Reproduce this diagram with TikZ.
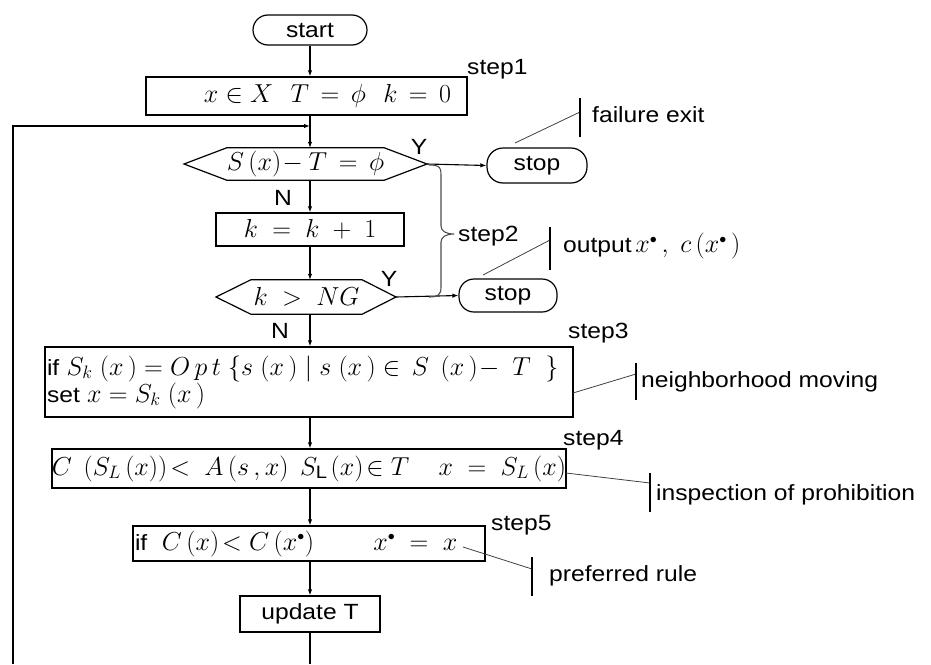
\RequirePackage{fix-cm}
\documentclass[tikz,border=0pt]{standalone}
\usepackage{fontspec}
\setmainfont[FakeStretch=1.12]{Liberation Sans}
\usetikzlibrary{arrows.meta,calc}
\DeclareMathSizes{22}{26}{18}{14}
\newcommand\lblfont{\fontsize{22}{27}\selectfont}
\newcommand\st{^{\scriptscriptstyle\bullet}}
\begin{document}
\begin{tikzpicture}[x=1pt,y=-1pt,
  box/.style={draw, line width=1.4pt, inner sep=0pt, font=\lblfont},
  term/.style={draw, line width=1.2pt, rounded corners=15pt, inner sep=0pt, font=\lblfont},
  hexline/.style={line width=1.2pt},
  conn/.style={line width=1.1pt, -{Latex[length=6pt,width=4.5pt]}},
  plain/.style={line width=1.1pt},
  callout/.style={line width=0.8pt, black!75},
  bar/.style={line width=1.6pt},
  lbl/.style={font=\lblfont, inner sep=0pt},
  bracecol/.style={line width=1.1pt, black!70}]
\useasboundingbox (0,0) rectangle (931,664);

% main column
\node[term, minimum width=114pt, minimum height=30pt] (start) at (310,30) {start};
\node[box, minimum width=321pt, minimum height=38pt] (init) at (306.5,96) {\hspace*{42pt}$x \in X\mskip 12mu T \,=\, \phi\mskip 12mu k \,=\, 0$};
\node[lbl, minimum width=145pt, minimum height=32pt] (h1) at (305.5,164) {$S\left(x\right)\!- T \,=\, \phi$};
\coordinate (h1L) at (184,164);
\coordinate (h1R) at (427,164);
\draw[hexline] (h1.north west) -- (h1.north east) -- (h1R) -- (h1.south east) -- (h1.south west) -- (h1L) -- cycle;
\node[box, minimum width=188pt, minimum height=33pt] (kb) at (310,229.5) {$k \;=\; k \;+\; 1$};
\node[lbl, minimum width=111pt, minimum height=34pt] (h2) at (306.5,297) {$k \;>\; NG$};
\coordinate (h2L) at (216,297);
\coordinate (h2R) at (396,297);
\draw[hexline] (h2.north west) -- (h2.north east) -- (h2R) -- (h2.south east) -- (h2.south west) -- (h2L) -- cycle;
\node[box, minimum width=528pt, minimum height=70pt, text width=524pt, align=left] (s3) at (309,382)
  {if $S_{k}\;(x\,) = O\,p\,t\;\Bigl\{s\;(x\,)\;\big|\;s\;(x\,) \in\, S\;\,(x\,)\!-\; T\;\;\Bigr\}$\\set $x = S_{k}\;(x\,)$};
\node[box, minimum width=514pt, minimum height=39pt] (s4) at (309,468.5)
  {$C\;\left(S_L\left(x\right)\right)\!< \;A\left(s\,,x\right)\;S_{\mathrm{L}}\left(x\right)\!\in T\quad\; x \;=\; S_{L}\left(x\right)$};
\node[box, minimum width=352pt, minimum height=35pt, text width=348pt, align=left] (s5) at (309,543.5)
  {if\ \ $C\left(x\right)\!< C\left(x\st\right)\qquad\enspace x\st \;=\; x$};
\node[box, minimum width=140pt, minimum height=36pt] (upd) at (310,614) {update T};

\coordinate (join) at (310,126);
\coordinate (loopB) at (13,664);
\coordinate (endB) at (310,664);

\draw[conn] (start.south) -- (start.south |- init.north);
\draw[plain] (start.south |- init.south) -- (join);
\draw[conn] (join) -- (join |- h1.north);
\draw[conn] (loopB) |- (join);
\draw[conn] (join |- h1.south) -- (join |- kb.north);
\draw[conn] (join |- kb.south) -- (join |- h2.north);
\draw[conn] (join |- h2.south) -- (join |- s3.north);
\draw[conn] (join |- s3.south) -- (join |- s4.north);
\draw[conn] (join |- s4.south) -- (join |- s5.north);
\draw[conn] (join |- s5.south) -- (join |- upd.north);
\draw[plain] (upd.south) -- (endB);

% Y / N labels
\node[lbl] (y1) at (419,147) {Y};
\node[lbl] (n1) at (283,198) {N};
\node[lbl] (y2) at (389,279) {Y};
\node[lbl] (n2) at (280,331) {N};

% stops
\node[term, minimum width=100pt, minimum height=35pt, rounded corners=16pt] (stop1) at (537,165.5) {stop};
\node[term, minimum width=98pt, minimum height=33pt, rounded corners=15pt] (stop2) at (508,295.5) {stop};
\draw[conn] (h1R) -- (stop1.west);
\draw[conn] (h2R) -- (stop2.west);

% brace step2
\coordinate (brT) at (429,165);
\coordinate (brB) at (429,297);
\coordinate (brM) at (454,234);
\draw[bracecol] (brT) .. controls (441,165) and (441,168) .. (441,178) -- (441,226)
  .. controls (441,231) and (446,234) .. (brM)
  .. controls (446,234) and (441,237) .. (441,242) -- (441,287)
  .. controls (441,295) and (438,297) .. (brB);

% step labels
\node[lbl, anchor=west] (st1) at (467,69) {step1};
\node[lbl, anchor=west] (st2) at (458,236) {step2};
\node[lbl, anchor=west] (st3) at (568,333) {step3};
\node[lbl, anchor=west] (st4) at (563,440) {step4};
\node[lbl, anchor=west] (st5) at (491,525) {step5};

% callouts
\coordinate (c1a) at (515,143); \coordinate (c1b) at (580,112);
\coordinate (b1t) at (580,98);  \coordinate (b1b) at (580,137);
\draw[callout] (c1a) -- (c1b);
\draw[bar] (b1t) -- (b1b);
\node[lbl, anchor=west] (fail) at (592,115) {failure exit};

\coordinate (c2a) at (483,275); \coordinate (c2b) at (550,240);
\coordinate (b2t) at (550,227); \coordinate (b2b) at (550,270);
\draw[callout] (c2a) -- (c2b);
\draw[bar] (b2t) -- (b2b);
\node[lbl, anchor=west] (outp) at (563,246) {output\,$x\st\,,\; c\left(x\st\,\right)$};

\coordinate (c3a) at (573,393); \coordinate (c3b) at (636,374);
\coordinate (b3t) at (636,363); \coordinate (b3b) at (636,400);
\draw[callout] (c3a) -- (c3b);
\draw[bar] (b3t) -- (b3b);
\node[lbl, anchor=west] (nbm) at (641,382) {neighborhood moving};

\coordinate (c4a) at (566,473); \coordinate (c4b) at (650,483);
\coordinate (b4t) at (650,473); \coordinate (b4b) at (650,512);
\draw[callout] (c4a) -- (c4b);
\draw[bar] (b4t) -- (b4b);
\node[lbl, anchor=west] (insp) at (656,495) {inspection of prohibition};

\coordinate (c5a) at (463,547); \coordinate (c5b) at (532,569);
\coordinate (b5t) at (532,557); \coordinate (b5b) at (532,596);
\draw[callout] (c5a) -- (c5b);
\draw[bar] (b5t) -- (b5b);
\node[lbl, anchor=west] (pref) at (549,576) {preferred rule};
\end{tikzpicture}
\end{document}
